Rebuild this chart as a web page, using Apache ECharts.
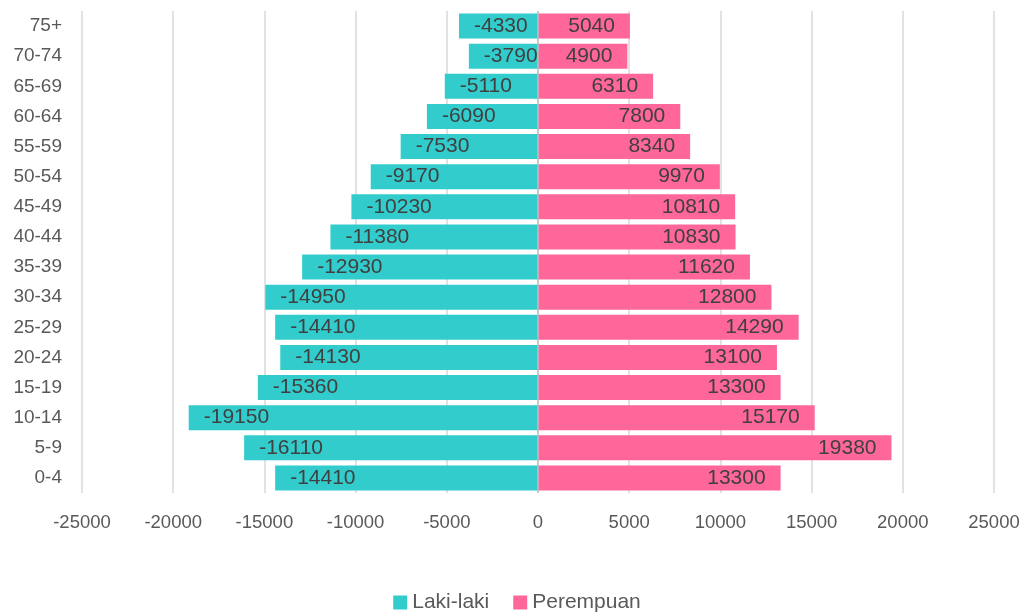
<!DOCTYPE html>
<html>
<head>
<meta charset="utf-8">
<script src="https://cdn.jsdelivr.net/npm/echarts@6/dist/echarts.min.js"></script>
<style>
html,body{margin:0;padding:0;background:#fff;}
#chart{width:1034px;height:613px;}
</style>
</head>
<body>
<div id="chart"></div>
<script>
const categories = ['0-4','5-9','10-14','15-19','20-24','25-29','30-34','35-39','40-44','45-49','50-54','55-59','60-64','65-69','70-74','75+'];
const lakiLaki = [-14410,-16110,-19150,-15360,-14130,-14410,-14950,-12930,-11380,-10230,-9170,-7530,-6090,-5110,-3790,-4330];
const perempuan = [13300,19380,15170,13300,13100,14290,12800,11620,10830,10810,9970,8340,7800,6310,4900,5040];
const seriesNames = ['Laki-laki','Perempuan'];

const FONT = '"Liberation Sans", Arial, sans-serif';
const labelStyle = { show: true, distance: 15, fontSize: 21, color: '#404040', fontWeight: 'normal', textBorderWidth: 0, textBorderColor: 'transparent', fontFamily: FONT };
const chart = echarts.init(document.getElementById('chart'));
chart.setOption({
  animation: false,
  textStyle: { fontFamily: FONT },
  grid: { left: 82, right: 40, top: 11, bottom: 120 },
  legend: {
    top: 587,
    left: 'center',
    icon: 'rect',
    itemWidth: 14,
    itemHeight: 14,
    itemGap: 24,
    textStyle: { fontSize: 21, color: '#595959', fontFamily: FONT },
    data: seriesNames
  },
  xAxis: {
    type: 'value',
    min: -25000,
    max: 25000,
    interval: 5000,
    axisLine: { show: false },
    axisTick: { show: false },
    axisLabel: { fontSize: 18.5, color: '#595959', margin: 20, formatter: v => String(v) },
    splitLine: { lineStyle: { color: '#D9D9D9', width: 1.5 } }
  },
  yAxis: {
    type: 'category',
    data: categories,
    axisLine: { show: false, onZero: false },
    axisTick: { show: false },
    axisLabel: { fontSize: 19, color: '#595959', margin: 20 }
  },
  series: [
    {
      name: seriesNames[0],
      type: 'bar',
      data: lakiLaki,
      barGap: '-100%',
      barCategoryGap: '17%',
      itemStyle: { color: '#33CCCC' },
      label: Object.assign({ position: 'insideLeft' }, labelStyle),
      markLine: {
        silent: true,
        symbol: 'none',
        label: { show: false },
        lineStyle: { color: '#BFBFBF', type: 'solid', width: 1.5 },
        data: [{ xAxis: 0 }]
      }
    },
    {
      name: seriesNames[1],
      type: 'bar',
      data: perempuan,
      barGap: '-100%',
      barCategoryGap: '17%',
      itemStyle: { color: '#FF6699' },
      label: Object.assign({ position: 'insideRight' }, labelStyle)
    }
  ]
});
</script>
</body>
</html>
